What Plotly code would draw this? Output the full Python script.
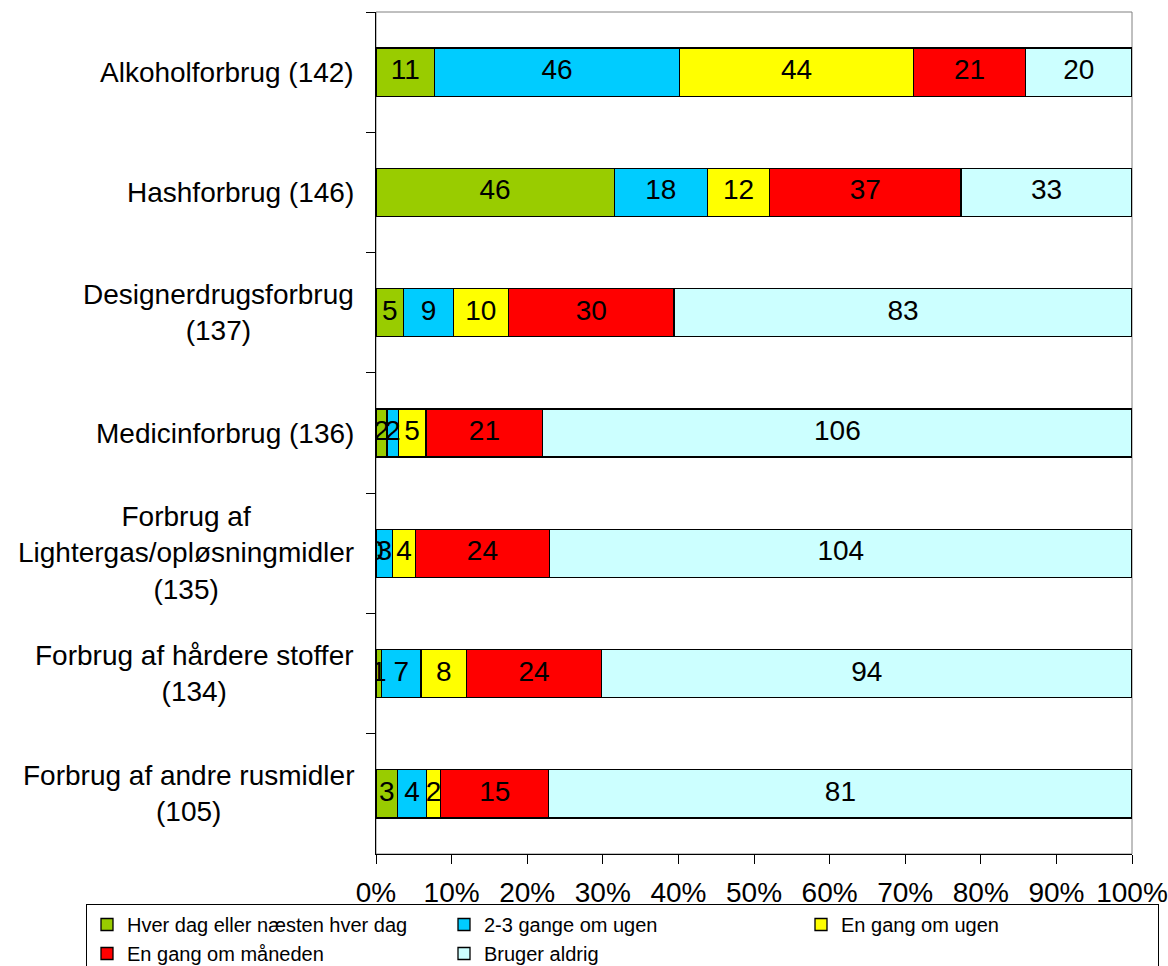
import plotly.graph_objects as go

# Survey: how often respondents use each substance (counts per answer group)
categories = [
    "Alkoholforbrug (142)",
    "Hashforbrug (146)",
    "Designerdrugsforbrug<br>(137)",
    "Medicinforbrug (136)",
    "Forbrug af<br>Lightergas/opløsningmidler<br>(135)",
    "Forbrug af hårdere stoffer<br>(134)",
    "Forbrug af andre rusmidler<br>(105)",
]
series_names = [
    "Hver dag eller næsten hver dag",
    "2-3 gange om ugen",
    "En gang om ugen",
    "En gang om måneden",
    "Bruger aldrig",
]
daily = [11, 46, 5, 2, 0, 1, 3]
two_three_weekly = [46, 18, 9, 2, 3, 7, 4]
weekly = [44, 12, 10, 5, 4, 8, 2]
monthly = [21, 37, 30, 21, 24, 24, 15]
never = [20, 33, 83, 106, 104, 94, 81]
colors = ["#99CC00", "#00CCFF", "#FFFF00", "#FF0000", "#CCFFFF"]
x_ticks = [0, 10, 20, 30, 40, 50, 60, 70, 80, 90, 100]

series = [daily, two_three_weekly, weekly, monthly, never]
totals = [sum(col) for col in zip(*series)]
FONT = "Liberation Sans, Arial, sans-serif"
TEXT_SIZE = 28

fig = go.Figure()

# 100% stacked bars: each count as a share of the row total
shares = [[v / t * 100 for v, t in zip(vals, totals)] for vals in series]
for name, vals, pct, color in zip(series_names, series, shares, colors):
    fig.add_trace(go.Bar(
        name=name,
        y=categories,
        x=pct,
        orientation="h",
        marker=dict(color=color, line=dict(color="black", width=1.3)),
        customdata=vals,
        hovertemplate="%{customdata}<extra>" + name + "</extra>",
    ))

# Count labels centred on each segment
start = [0.0] * len(categories)
for vals, pct in zip(series, shares):
    centers = [s + p / 2 for s, p in zip(start, pct)]
    fig.add_trace(go.Scatter(
        x=centers,
        y=categories,
        mode="text",
        text=[str(v) for v in vals],
        textposition="middle center",
        textfont=dict(family=FONT, size=TEXT_SIZE, color="black"),
        showlegend=False,
        hoverinfo="skip",
    ))
    start = [s + p for s, p in zip(start, pct)]

# Category labels (centred multi-line blocks, right-aligned to the axis)
for cat in categories:
    fig.add_annotation(
        x=0, xref="paper", y=cat, yref="y",
        xanchor="right", yanchor="middle", xshift=-20,
        text=cat, showarrow=False, align="center",
        font=dict(family=FONT, size=TEXT_SIZE, color="black"),
    )

# Grey plot-area frame
fig.add_shape(type="rect", xref="paper", yref="paper", x0=0, x1=1, y0=0, y1=1,
              line=dict(color="#808080", width=1), layer="below")

fig.update_layout(
    width=1168,
    height=966,
    margin=dict(l=376, r=36, t=12, b=112, autoexpand=False),
    barmode="stack",
    bargap=0.6,
    plot_bgcolor="white",
    paper_bgcolor="white",
    font=dict(family=FONT, size=TEXT_SIZE, color="black"),
    showlegend=True,
    legend=dict(
        orientation="h",
        x=-0.3836, xanchor="left",
        y=-0.0594, yanchor="top",
        bordercolor="black", borderwidth=1,
        font=dict(family=FONT, size=20, color="black"),
        entrywidth=312,
        traceorder="normal",
        tracegroupgap=0,
    ),
    xaxis=dict(
        range=[0, 100],
        tickvals=x_ticks,
        ticktext=[f"{t}%" for t in x_ticks],
        ticks="outside", ticklen=9, tickcolor="black", tickwidth=1,
        showline=True, linecolor="black", linewidth=1,
        showgrid=False, zeroline=False,
        ticklabelstandoff=4,
        automargin=False,
        tickfont=dict(family=FONT, size=TEXT_SIZE, color="black"),
        fixedrange=True,
    ),
    yaxis=dict(
        type="category",
        categoryorder="array", categoryarray=categories,
        autorange="reversed",
        tickson="boundaries",
        ticks="outside", ticklen=9, tickcolor="black", tickwidth=1,
        showticklabels=False,
        showline=True, linecolor="black", linewidth=1,
        showgrid=False, zeroline=False,
        automargin=False,
        fixedrange=True,
    ),
)

fig.write_html("out.html")
